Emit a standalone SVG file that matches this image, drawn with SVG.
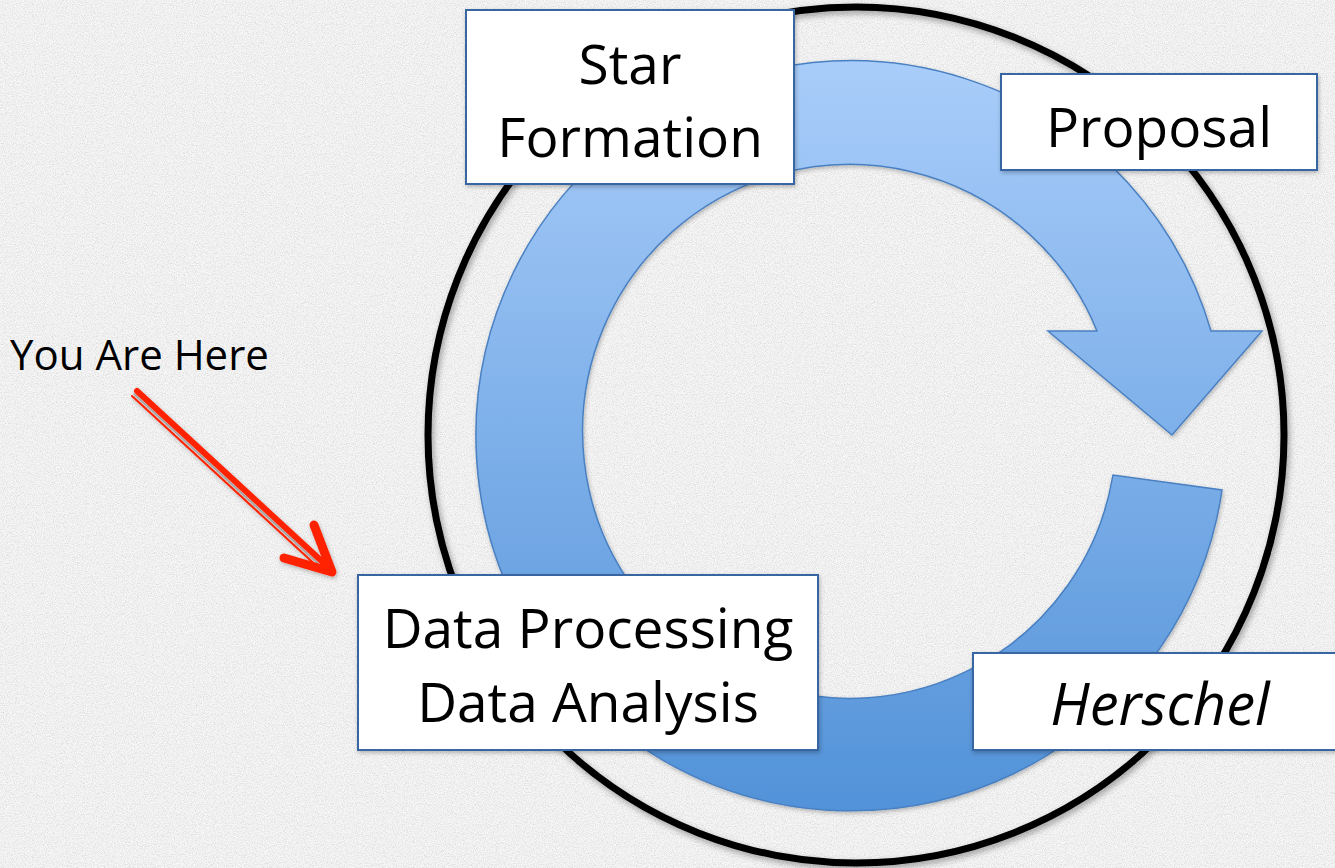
<svg xmlns="http://www.w3.org/2000/svg" width="1335" height="868" viewBox="0 0 1335 868">
  <defs>
    <style>
      .box { fill: #ffffff; stroke: #3866a3; stroke-width: 2; }
      .lbl { font-family: "Open Sans", "Liberation Sans", sans-serif; font-size: 55px; fill: #000; text-anchor: middle; }
      .ital { font-style: italic; font-size: 58px; }
    </style>
    <linearGradient id="blue" x1="0" y1="61" x2="0" y2="811" gradientUnits="userSpaceOnUse">
      <stop offset="0" stop-color="#a9cdfa"/>
      <stop offset="1" stop-color="#5292d8"/>
    </linearGradient>
    <filter id="noise" x="0" y="0" width="100%" height="100%">
      <feTurbulence type="fractalNoise" baseFrequency="0.9" numOctaves="2" seed="7" result="t"/>
      <feColorMatrix in="t" type="matrix" values="0 0 0 0 0  0 0 0 0 0  0 0 0 0 0  0.25 0 0 0 -0.1"/>
    </filter>
    <filter id="shadow" x="-10%" y="-10%" width="120%" height="120%">
      <feDropShadow dx="2" dy="3" stdDeviation="3" flood-color="#000" flood-opacity="0.35"/>
    </filter>
    <filter id="shadowS" x="-10%" y="-10%" width="120%" height="120%">
      <feDropShadow dx="1" dy="2" stdDeviation="2" flood-color="#000" flood-opacity="0.25"/>
    </filter>
  </defs>

  <g id="background">
    <rect width="1335" height="868" fill="#f6f6f6"/>
    <rect width="1335" height="868" filter="url(#noise)"/>
  </g>

  <g id="ring">
    <circle cx="856" cy="435" r="428" fill="none" stroke="#000" stroke-width="7" filter="url(#shadow)"/>
  </g>

  <g id="cycle-arrow">
    <path d="M1222,490 A375,375 0 1 1 1211,331 L1262,331 L1172,435 L1048,331 L1097,331 A267,267 0 1 0 1113,475 Z" fill="url(#blue)" stroke="#4a80c2" stroke-width="1.5" filter="url(#shadowS)"/>
  </g>

  <g id="connectors">
    <g id="you-are-here-arrow" stroke="#ff2200" fill="none" stroke-linecap="round" stroke-linejoin="round" filter="url(#shadowS)">
      <line x1="137" y1="391" x2="327" y2="566" stroke-width="6"/>
      <line x1="134" y1="394" x2="324" y2="569" stroke="#a0a0a0" stroke-width="1.5"/>
      <line x1="132" y1="396" x2="321" y2="570" stroke-width="2"/>
      <polyline points="284,558 332,572 314,525" stroke-width="9"/>
    </g>
  </g>

  <g id="you-are-here">
    <text x="10" y="370" font-family="'Open Sans', 'Liberation Sans', sans-serif" font-size="42" fill="#000">You Are Here</text>
  </g>

  <g id="node-star-formation" filter="url(#shadowS)">
    <rect class="box" x="466" y="10" width="328" height="174"/>
    <text class="lbl" x="630" y="84">Star</text>
    <text class="lbl" x="630" y="157">Formation</text>
  </g>

  <g id="node-proposal" filter="url(#shadowS)">
    <rect class="box" x="1001" y="74" width="316" height="96"/>
    <text class="lbl" x="1159" y="147">Proposal</text>
  </g>

  <g id="node-data" filter="url(#shadowS)">
    <rect class="box" x="358" y="575" width="460" height="175"/>
    <text class="lbl" x="588" y="648">Data Processing</text>
    <text class="lbl" x="588" y="722">Data Analysis</text>
  </g>

  <g id="node-herschel" filter="url(#shadowS)">
    <rect class="box" x="973" y="653" width="370" height="97"/>
    <text class="lbl ital" x="1160" y="725">Herschel</text>
  </g>
</svg>
